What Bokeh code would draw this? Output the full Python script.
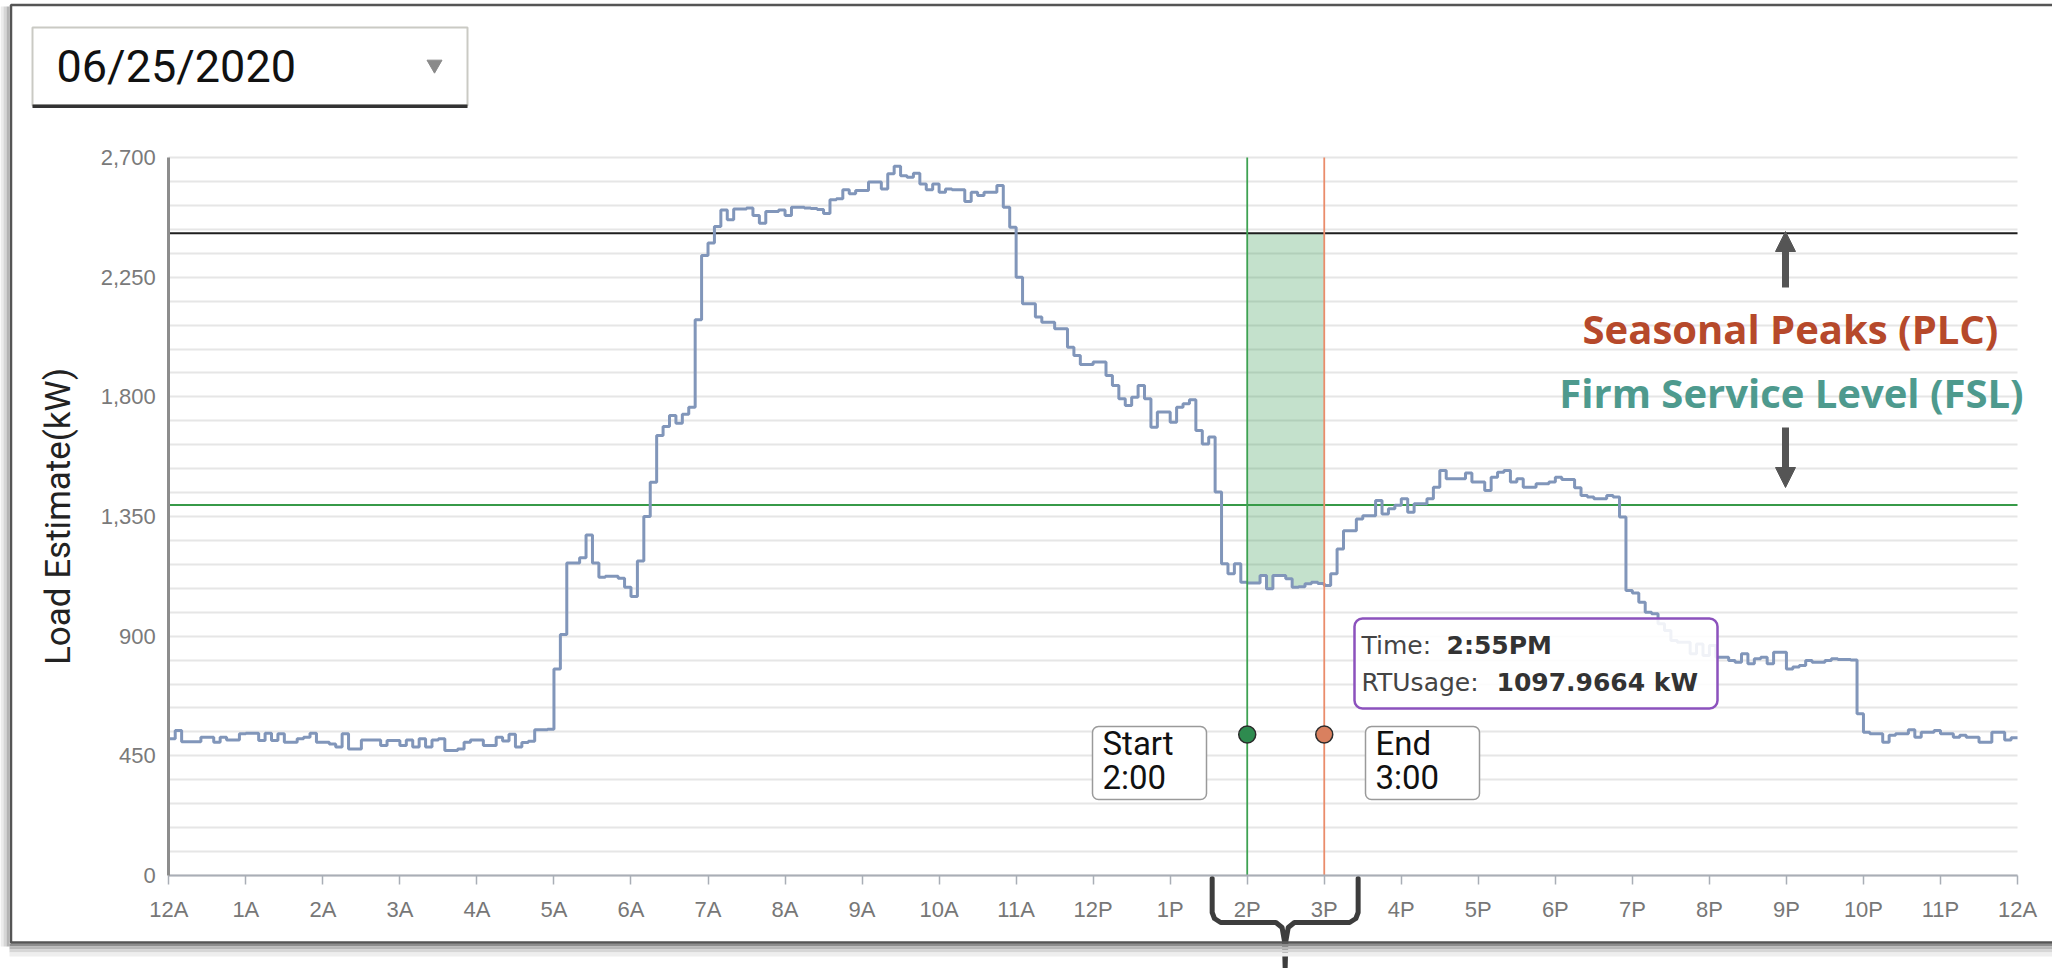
import numpy as np
from bokeh.plotting import figure
from bokeh.models import (Range1d, LinearAxis, FixedTicker, NumeralTickFormatter, Grid,
                          BoxAnnotation, Label, Arrow, NormalHead)
from bokeh.embed import file_html
from bokeh.resources import INLINE

# ---------------- data ----------------
date_label = "06/25/2020"
hour_labels = ["12A", "1A", "2A", "3A", "4A", "5A", "6A", "7A", "8A", "9A", "10A", "11A",
               "12P", "1P", "2P", "3P", "4P", "5P", "6P", "7P", "8P", "9P", "10P", "11P", "12A"]
y_ticks = [0, 450, 900, 1350, 1800, 2250, 2700]
grid_ticks = list(range(0, 2701, 90))

# 5-minute RT usage (kW), 12A-6A
load_00_06 = [514, 545, 503, 503, 503, 520, 520, 501, 520, 510, 510, 533,
              535, 535, 508, 535, 508, 533, 501, 501, 514, 520, 535, 501,
              501, 495, 483, 533, 476, 476, 510, 510, 510, 489, 508, 508,
              489, 510, 483, 514, 483, 510, 514, 470, 470, 476, 501, 510,
              510, 489, 489, 520, 506, 531, 483, 500, 505, 548, 548, 550,
              777, 906, 1175, 1175, 1195, 1281, 1175, 1122, 1125, 1125, 1118, 1084]
# 6A-12P
load_06_12 = [1049, 1183, 1350, 1479, 1655, 1689, 1730, 1701, 1735, 1761, 2090, 2332,
              2379, 2441, 2503, 2466, 2507, 2507, 2510, 2482, 2453, 2497, 2497, 2503,
              2482, 2513, 2513, 2510, 2508, 2505, 2490, 2541, 2545, 2579, 2564, 2576,
              2576, 2608, 2608, 2582, 2639, 2667, 2632, 2626, 2641, 2601, 2579, 2601,
              2570, 2582, 2579, 2579, 2535, 2570, 2557, 2570, 2570, 2595, 2513, 2438,
              2250, 2150, 2150, 2100, 2081, 2081, 2056, 2056, 1987, 1956, 1922, 1922]
# 12P-6P
load_12_18 = [1931, 1931, 1880, 1843, 1793, 1768, 1799, 1843, 1793, 1686, 1743, 1743,
              1705, 1761, 1774, 1789, 1674, 1623, 1649, 1442, 1172, 1135, 1172, 1103,
              1100, 1100, 1128, 1078, 1128, 1128, 1116, 1084, 1086, 1097, 1103, 1097.9664,
              1091, 1135, 1228, 1297, 1297, 1341, 1353, 1353, 1410, 1360, 1379, 1392,
              1417, 1366, 1398, 1398, 1417, 1460, 1523, 1492, 1492, 1492, 1514, 1480,
              1480, 1448, 1498, 1517, 1523, 1480, 1492, 1460, 1460, 1473, 1473, 1480]
# 6P-12A
load_18_24 = [1498, 1489, 1489, 1458, 1429, 1423, 1417, 1417, 1429, 1423, 1348, 1072,
              1062, 1028, 990, 984, 947, 921, 884, 877, 877, 834, 871, 827,
              865, 821, 821, 809, 802, 834, 796, 815, 821, 796, 840, 840,
              777, 784, 790, 809, 802, 802, 809, 815, 812, 812, 810, 608,
              539, 533, 533, 501, 527, 533, 533, 548, 520, 539, 539, 545,
              533, 533, 520, 527, 520, 520, 501, 501, 539, 539, 510, 518]

plc_kw = 2415          # Seasonal Peaks (PLC)
fsl_kw = 1393          # Firm Service Level (FSL)
window_start_h = 14    # 2:00 PM
window_end_h = 15      # 3:00 PM
tooltip_time = "2:55PM"
tooltip_value = "1097.9664 kW"

load = load_00_06 + load_06_12 + load_12_18 + load_18_24
step_h = 5.0 / 60.0
times = np.arange(len(load) + 1) * step_h
vals = np.array(load + [load[-1]], dtype=float)
i0 = int(round(window_start_h / step_h))
i1 = int(round(window_end_h / step_h))

# ---------------- geometry (page pixels -> data) ----------------
W, H = 2052, 968
PX0, PY0 = 0, 0
X0_PX, X_PER_H = 168.3, 77.03
Y0_PX, Y_PER_KW = 875.0, 0.2659


def hx(px):
    return (px - X0_PX) / X_PER_H


def ky(py):
    return (Y0_PX - py) / Y_PER_KW


p = figure(width=W, height=H,
           x_range=Range1d(hx(PX0), hx(PX0 + W)),
           y_range=Range1d(ky(PY0 + H), ky(PY0)),
           x_axis_type=None, y_axis_type=None,
           output_backend="svg", toolbar_location=None, title=None,
           min_border=0, min_border_left=0, min_border_right=0,
           min_border_top=0, min_border_bottom=0)
p.outline_line_color = None
p.background_fill_color = "white"
p.border_fill_color = "white"


def box(l, r, t, b, fill=None, falpha=1.0, line=None, lw=1.0, radius=0):
    return BoxAnnotation(left=hx(l), right=hx(r), top=ky(t), bottom=ky(b),
                         fill_color=fill, fill_alpha=falpha if fill else 0,
                         line_color=line, line_alpha=1.0, line_width=lw,
                         border_radius=radius)


# outer frame + shadow
for (x0, x1, c) in [(0, 3, "#ececec"), (3, 6, "#d6d6d6"), (6, 9, "#b4b4b4")]:
    p.add_layout(box(x0, x1, 6, 946, fill=c))
for (t, b, c) in [(943, 946, "#8e8e8e"), (946, 949, "#b8b8b8"), (949, 952, "#d6d6d6"),
                  (952, 956, "#eeeeee")]:
    p.add_layout(box(9, 2300, t, b, fill=c))
p.add_layout(box(10.5, 2300, 4.5, 942, line="#555555", lw=2.5))

# date picker box
p.add_layout(box(32, 467, 27, 105, fill="white", line="#cacac4", lw=2))
p.add_layout(box(32, 467, 104, 107.5, fill="#333333"))
p.add_layout(Label(x=hx(56), y=ky(66), text=date_label, text_font="Roboto",
                   text_font_size="45px", text_color="#111111",
                   text_align="left", text_baseline="middle"))
tri = p.scatter(x=[hx(434)], y=[ky(64)], marker="inverted_triangle", size=15,
                fill_color="#8a8a8a", line_color="#8a8a8a")
tri.level = "overlay"

# grid (every 90 kW, only across the plotting window)
ygrid = Grid(dimension=1, ticker=FixedTicker(ticks=grid_ticks),
             grid_line_color="#e6e6e6", grid_line_width=1.8, cross_bounds=(0, 24))
p.add_layout(ygrid)

# axes
xaxis = LinearAxis(fixed_location=0, bounds=(0, 24),
                   ticker=FixedTicker(ticks=list(range(25))),
                   major_label_overrides={i: lab for i, lab in enumerate(hour_labels)})
xaxis.axis_line_color = "#a9aeb6"
xaxis.axis_line_width = 2
xaxis.major_tick_line_color = "#a9aeb6"
xaxis.major_tick_line_width = 1.5
xaxis.major_tick_out = 9
xaxis.major_tick_in = 0
xaxis.minor_tick_line_color = None
xaxis.major_label_standoff = 12
xaxis.major_label_text_font = "Liberation Sans"
xaxis.major_label_text_font_size = "22px"
xaxis.major_label_text_color = "#777777"
p.add_layout(xaxis, "below")

yaxis = LinearAxis(fixed_location=0, bounds=(0, 2700),
                   ticker=FixedTicker(ticks=y_ticks),
                   formatter=NumeralTickFormatter(format="0,0"),
                   axis_label="Load Estimate(kW)")
yaxis.axis_line_color = "#8d8d8d"
yaxis.axis_line_width = 3
yaxis.major_tick_line_color = None
yaxis.minor_tick_line_color = None
yaxis.major_tick_out = 0
yaxis.major_tick_in = 0
yaxis.major_label_standoff = 13
yaxis.major_label_text_font = "Liberation Sans"
yaxis.major_label_text_font_size = "22px"
yaxis.major_label_text_color = "#7a7a7a"
yaxis.axis_label_text_font = "Roboto"
yaxis.axis_label_text_font_size = "35px"
yaxis.axis_label_text_font_style = "normal"
yaxis.axis_label_text_color = "#222222"
yaxis.axis_label_standoff = 18
p.add_layout(yaxis, "left")

# shaded window between usage and PLC
p.varea_step(x=times[i0:i1 + 1], y1=vals[i0:i1 + 1], y2=plc_kw, step_mode="after",
             fill_color="#3c9a55", fill_alpha=0.3)

# level lines
p.segment(x0=[0], y0=[plc_kw], x1=[24], y1=[plc_kw], line_color="#1e1e1e", line_width=2)
p.segment(x0=[0], y0=[fsl_kw], x1=[24], y1=[fsl_kw], line_color="#379a48", line_width=2)

# usage step line
p.step(x=times, y=vals, mode="after", line_color="#8196ba", line_width=3)

# window boundaries
p.segment(x0=[window_start_h], y0=[0], x1=[window_start_h], y1=[2700],
          line_color="#3ea252", line_width=1.8)
p.segment(x0=[window_end_h], y0=[0], x1=[window_end_h], y1=[2700],
          line_color="#ea8c6b", line_width=1.8)

marker_kw = ky(734)
p.scatter(x=[window_start_h], y=[marker_kw], size=17, fill_color="#2e8b4f",
          line_color="#2b2b2b", line_width=1.5)
p.scatter(x=[window_end_h], y=[marker_kw], size=17, fill_color="#d9805f",
          line_color="#2b2b2b", line_width=1.5)

# start / end boxes
for (l, r, t1, t2) in [(1092, 1206, "Start", "2:00"), (1365, 1479, "End", "3:00")]:
    p.add_layout(box(l, r, 726, 799, fill="white", line="#9a9a9a", lw=1.5, radius=6))
    for (txt, yy) in [(t1, 743), (t2, 777)]:
        p.add_layout(Label(x=hx(l + 10), y=ky(yy), text=txt, text_font="Roboto",
                           text_font_size="33px", text_color="#111111",
                           text_align="left", text_baseline="middle"))

# tooltip
p.add_layout(box(1354, 1717, 618, 708, fill="white", falpha=0.88, line="#8c52bd",
                 lw=2.5, radius=8))
for (txt, xx, yy, st) in [("Time:", 1361, 645, "normal"), (tooltip_time, 1446, 645, "bold"),
                          ("RTUsage:", 1361, 682, "normal"), (tooltip_value, 1496, 682, "bold")]:
    p.add_layout(Label(x=hx(xx), y=ky(yy), text=txt, text_font="DejaVu Sans",
                       text_font_size="25px", text_font_style=st,
                       text_color="#444444" if st == "normal" else "#333333",
                       text_align="left", text_baseline="middle"))

# PLC / FSL annotation
p.add_layout(Label(x=hx(1790), y=ky(328), text="Seasonal Peaks (PLC)", text_font="Open Sans",
                   text_font_size="40px", text_font_style="bold", text_color="#b6492b",
                   text_align="center", text_baseline="middle"))
p.add_layout(Label(x=hx(1791), y=ky(392), text="Firm Service Level (FSL)", text_font="Open Sans",
                   text_font_size="40px", text_font_style="bold", text_color="#4e9a8e",
                   text_align="center", text_baseline="middle"))
p.add_layout(Arrow(x_start=hx(1785), y_start=ky(287), x_end=hx(1785), y_end=ky(231),
                   line_color="#555555", line_width=7,
                   end=NormalHead(size=20, fill_color="#555555", line_color="#555555", line_width=1)))
p.add_layout(Arrow(x_start=hx(1785), y_start=ky(427), x_end=hx(1785), y_end=ky(487),
                   line_color="#555555", line_width=7,
                   end=NormalHead(size=20, fill_color="#555555", line_color="#555555", line_width=1)))

# brace under the 2P-3P window
bl, br = window_start_h - 0.455, window_end_h + 0.44
bm = (bl + br) / 2
brace_x = [bl, bl, bl + 0.03, bl + 0.11, bm - 0.12, bm - 0.04, bm - 0.01, bm,
           bm + 0.01, bm + 0.04, bm + 0.12, br - 0.11, br - 0.03, br, br]
brace_py = [878, 912, 918, 922, 922, 927, 940, 967, 940, 927, 922, 922, 918, 912, 878]
p.line(x=brace_x, y=[ky(v) for v in brace_py], line_color="#3d3d3d", line_width=5,
       line_join="round", line_cap="round")

open("out.html", "w").write(file_html(p, INLINE))
